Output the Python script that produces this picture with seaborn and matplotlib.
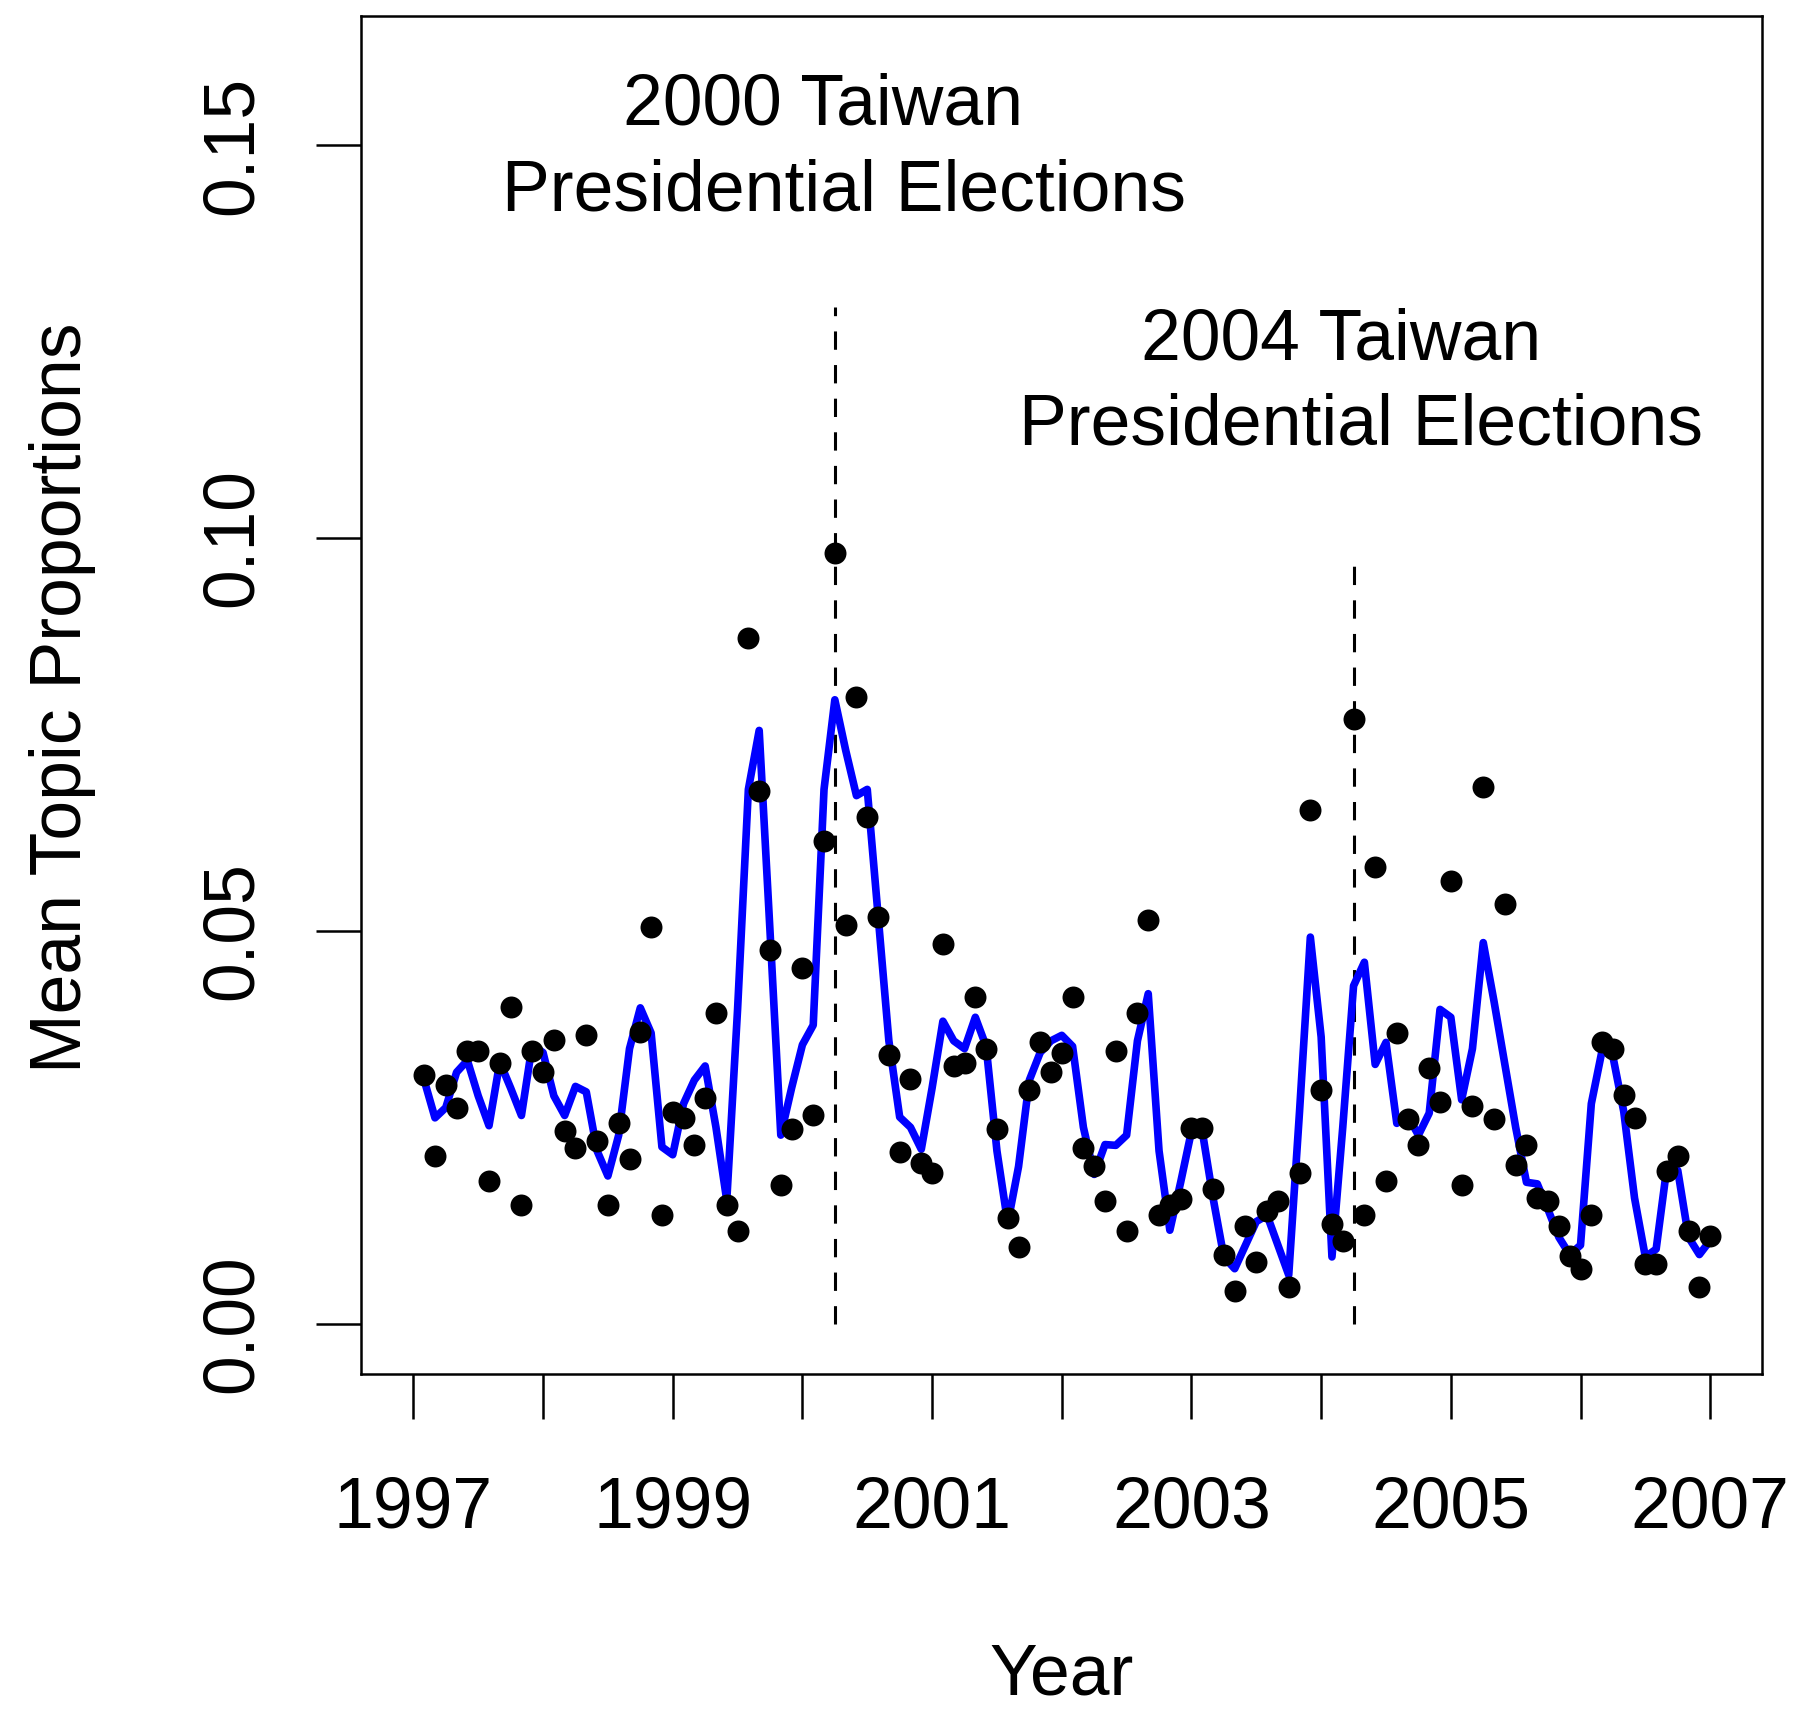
import numpy as np
import pandas as pd
import matplotlib
matplotlib.use("Agg")
import matplotlib.pyplot as plt
import seaborn as sns

# Monthly mean topic proportions, Feb 1997 .. Jan 2007
month_index = list(range(1, 121))
proportion = [
    0.0316, 0.0214, 0.0304, 0.0275, 0.0347, 0.0347, 0.0182, 0.0332, 0.0403, 0.0151,
    0.0347, 0.0320, 0.0361, 0.0245, 0.0224, 0.0367, 0.0233, 0.0151, 0.0256, 0.0210,
    0.0371, 0.0505, 0.0138, 0.0269, 0.0262, 0.0227, 0.0287, 0.0395, 0.0151, 0.0118,
    0.0872, 0.0678, 0.0475, 0.0176, 0.0248, 0.0453, 0.0266, 0.0614, 0.0981, 0.0507,
    0.0798, 0.0645, 0.0517, 0.0342, 0.0218, 0.0312, 0.0205, 0.0192, 0.0483, 0.0328,
    0.0332, 0.0416, 0.0349, 0.0248, 0.0134, 0.0098, 0.0298, 0.0358, 0.0320, 0.0345,
    0.0416, 0.0224, 0.0201, 0.0156, 0.0347, 0.0118, 0.0396, 0.0514, 0.0138, 0.0151,
    0.0159, 0.0249, 0.0249, 0.0172, 0.0087, 0.0042, 0.0125, 0.0079, 0.0143, 0.0156,
    0.0047, 0.0192, 0.0654, 0.0298, 0.0127, 0.0105, 0.0770, 0.0138, 0.0581, 0.0181,
    0.0370, 0.0261, 0.0227, 0.0325, 0.0282, 0.0563, 0.0176, 0.0277, 0.0683, 0.0261,
    0.0534, 0.0202, 0.0227, 0.0160, 0.0156, 0.0125, 0.0086, 0.0070, 0.0138, 0.0358,
    0.0349, 0.0291, 0.0262, 0.0076, 0.0076, 0.0194, 0.0214, 0.0118, 0.0047, 0.0112,
]

# Smoothed estimate of the monthly proportions
smoothed = [
    0.0310, 0.0262, 0.0275, 0.0320, 0.0335, 0.0290, 0.0252, 0.0333, 0.0300, 0.0265,
    0.0355, 0.0345, 0.0290, 0.0265, 0.0302, 0.0295, 0.0220, 0.0188, 0.0240, 0.0350,
    0.0402, 0.0370, 0.0225, 0.0215, 0.0280, 0.0310, 0.0328, 0.0250, 0.0157, 0.0400,
    0.0680, 0.0755, 0.0500, 0.0240, 0.0300, 0.0355, 0.0380, 0.0680, 0.0794, 0.0730,
    0.0672, 0.0680, 0.0520, 0.0360, 0.0263, 0.0250, 0.0222, 0.0300, 0.0385, 0.0360,
    0.0350, 0.0390, 0.0353, 0.0220, 0.0128, 0.0200, 0.0310, 0.0345, 0.0360, 0.0367,
    0.0353, 0.0250, 0.0190, 0.0228, 0.0227, 0.0240, 0.0360, 0.0420, 0.0220, 0.0119,
    0.0180, 0.0245, 0.0245, 0.0160, 0.0085, 0.0070, 0.0100, 0.0130, 0.0138, 0.0100,
    0.0062, 0.0270, 0.0492, 0.0365, 0.0085, 0.0250, 0.0430, 0.0460, 0.0330, 0.0358,
    0.0255, 0.0265, 0.0240, 0.0268, 0.0400, 0.0390, 0.0285, 0.0350, 0.0485, 0.0410,
    0.0330, 0.0250, 0.0180, 0.0178, 0.0145, 0.0110, 0.0088, 0.0100, 0.0280, 0.0348,
    0.0340, 0.0270, 0.0160, 0.0085, 0.0095, 0.0200, 0.0195, 0.0110, 0.0088, 0.0106,
]

election_years = [2000.25, 2004.25]
election_line_tops = [0.1294, 0.0975]
election_titles = ["2000 Taiwan", "2004 Taiwan"]
election_subtitle = "Presidential Elections"

year_ticks = list(range(1997, 2008))
year_labels = [str(y) if y % 2 == 1 else "" for y in year_ticks]
prop_ticks = [0.00, 0.05, 0.10, 0.15]
prop_labels = ["0.00", "0.05", "0.10", "0.15"]

df = pd.DataFrame({
    "year": [1997 + m / 12 for m in month_index],
    "proportion": proportion,
    "smoothed": smoothed,
})

sns.set_style("ticks")
plt.rcParams["font.family"] = ["Liberation Sans", "DejaVu Sans"]

FS = 51.5

fig = plt.figure(figsize=(17.94, 17.09), dpi=100)
ax = fig.add_axes([0.2015, 0.196, 0.7807, 0.7946])

sns.lineplot(data=df, x="year", y="smoothed", color="#0000FF", linewidth=5.5,
             ax=ax, zorder=2, solid_joinstyle="round", solid_capstyle="round")
sns.scatterplot(data=df, x="year", y="proportion", color="black", s=250,
                linewidth=0, ax=ax, zorder=3)

for x, top in zip(election_years, election_line_tops):
    ax.plot([x, x], [0, top], color="black", linewidth=2.2,
            linestyle=(0, (6, 5)), zorder=1)

text_kw = dict(ha="center", va="center", fontsize=FS, color="black")
ax.text(2000.16, 0.1549, election_titles[0], **text_kw)
ax.text(2000.32, 0.1440, election_subtitle, **text_kw)
ax.text(2004.15, 0.1251, election_titles[1], **text_kw)
ax.text(2004.31, 0.1142, election_subtitle, **text_kw)

ax.set_xlim(1996.6, 2007.4)
ax.set_ylim(-0.0064, 0.1664)
ax.set_xticks(year_ticks)
ax.set_xticklabels(year_labels)
ax.set_yticks(prop_ticks)
ax.set_yticklabels(prop_labels, rotation=90, va="center")
ax.tick_params(axis="both", direction="out", length=32.4, width=1.8,
               labelsize=FS, color="black", labelcolor="black")
ax.tick_params(axis="x", pad=41)
ax.tick_params(axis="y", pad=36)
for side in ["left", "right", "top", "bottom"]:
    ax.spines[side].set_visible(True)
    ax.spines[side].set_linewidth(1.8)
    ax.spines[side].set_color("black")

ax.set_xlabel("")
ax.set_ylabel("")
fig.text(1062 / 1794, 1 - 1676 / 1709, "Year", ha="center", va="center",
         fontsize=FS, color="black")
fig.text(63 / 1794, 1 - 698 / 1709, "Mean Topic Proportions", ha="center",
         va="center", rotation=90, fontsize=FS, color="black")

fig.savefig("out.png", dpi=100, facecolor="white")
